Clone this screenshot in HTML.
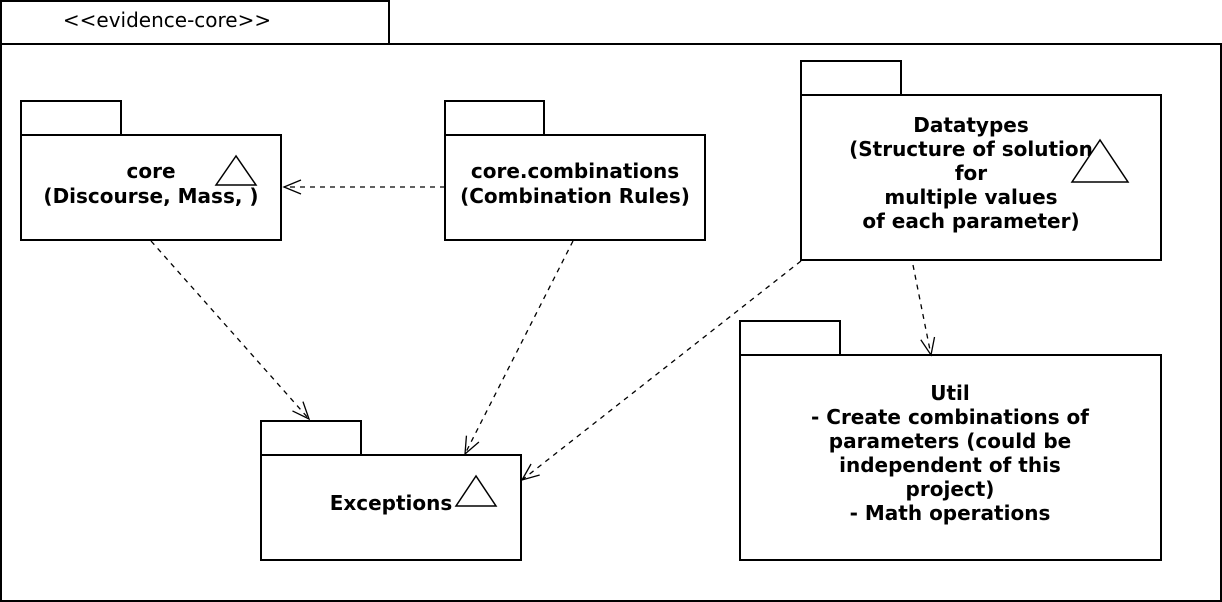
<!DOCTYPE html>
<html><head><meta charset="utf-8"><style>
html,body{margin:0;padding:0;background:#fff;}
svg{display:block;}
text{font-family:"DejaVu Sans","Liberation Sans",sans-serif;fill:#000;}
.b{font-weight:bold;font-size:20px;}
</style></head><body>
<svg width="1222" height="602" viewBox="0 0 1222 602" xmlns="http://www.w3.org/2000/svg">
<defs>
<marker id="a" markerWidth="20" markerHeight="20" refX="18" refY="10" orient="auto" markerUnits="userSpaceOnUse">
<path d="M1,3 L18,10 L1,17" fill="none" stroke="#000" stroke-width="1.3"/>
</marker>
</defs>
<g fill="#fff" stroke="#000" stroke-width="2">
<rect x="1" y="1" width="388" height="43"/>
<rect x="1" y="44" width="1220" height="557"/>
<rect x="21" y="101" width="100" height="34"/>
<rect x="21" y="135" width="260" height="105"/>
<rect x="445" y="101" width="99" height="34"/>
<rect x="445" y="135" width="260" height="105"/>
<rect x="801" y="61" width="100" height="34"/>
<rect x="801" y="95" width="360" height="165"/>
<rect x="740" y="321" width="100" height="34"/>
<rect x="740" y="355" width="421" height="205"/>
<rect x="261" y="421" width="100" height="34"/>
<rect x="261" y="455" width="260" height="105"/>
</g>
<text x="167" y="27" font-size="20" text-anchor="middle">&lt;&lt;evidence-core&gt;&gt;</text>
<g text-anchor="middle">
<text class="b" x="151" y="178">core</text>
<text class="b" x="151" y="203">(Discourse, Mass, )</text>
<text class="b" x="575" y="178">core.combinations</text>
<text class="b" x="575" y="203">(Combination Rules)</text>
<text class="b" x="971" y="132">Datatypes</text>
<text class="b" x="971" y="156">(Structure of solution</text>
<text class="b" x="971" y="180">for</text>
<text class="b" x="971" y="204">multiple values</text>
<text class="b" x="971" y="228">of each parameter)</text>
<text class="b" x="950" y="400">Util</text>
<text class="b" x="950" y="424">- Create combinations of</text>
<text class="b" x="950" y="448">parameters (could be</text>
<text class="b" x="950" y="472">independent of this</text>
<text class="b" x="950" y="496">project)</text>
<text class="b" x="950" y="520">- Math operations</text>
<text class="b" x="391" y="510">Exceptions</text>
</g>
<g fill="#fff" stroke="#000" stroke-width="1.5">
<polygon points="236,156 216,185 256,185"/>
<polygon points="1100,140 1072,182 1128,182"/>
<polygon points="476,476 456,506 496,506"/>
</g>
<g fill="none" stroke="#000" stroke-width="1.3" stroke-dasharray="5,5" marker-end="url(#a)">
<line x1="445" y1="187" x2="284" y2="187"/>
<line x1="151" y1="241" x2="309" y2="419"/>
<line x1="573" y1="241" x2="465" y2="454"/>
<line x1="801" y1="261" x2="522" y2="480"/>
<line x1="913" y1="265" x2="931" y2="355"/>
</g>
</svg>
</body></html>
